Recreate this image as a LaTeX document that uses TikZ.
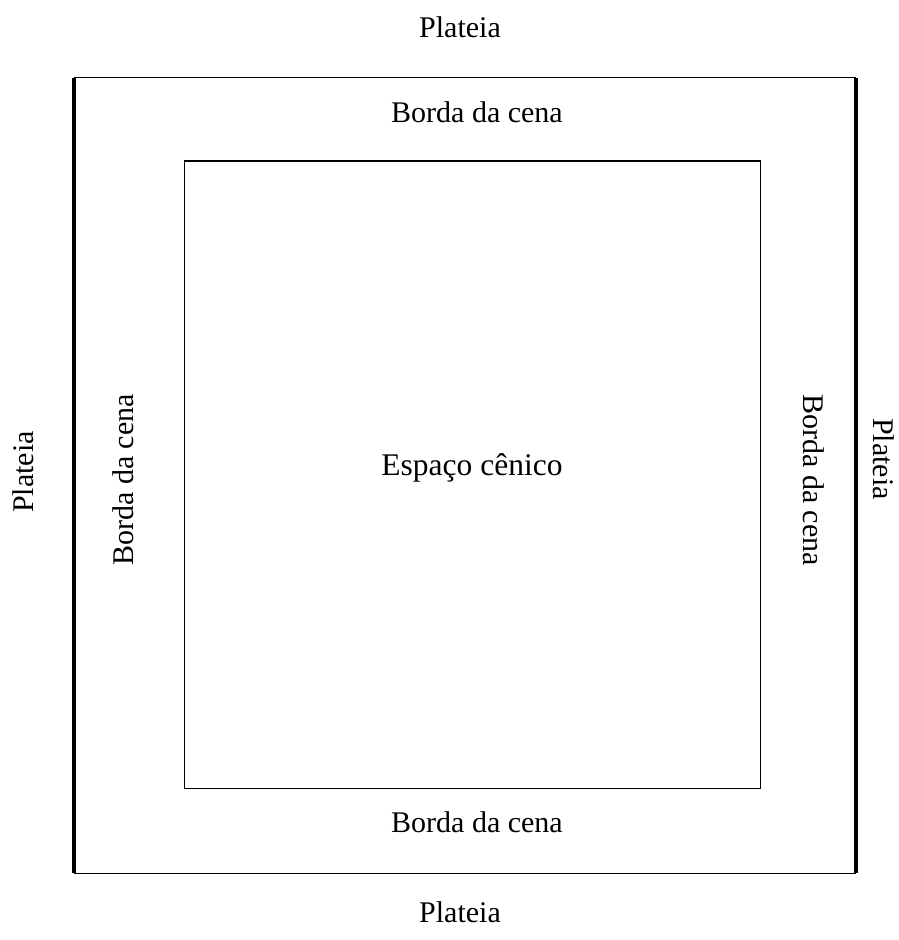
\documentclass[tikz,border=0pt]{standalone}
\usepackage{fontspec}
\setmainfont{Liberation Serif}
\begin{document}
\begin{tikzpicture}[x=1pt,y=-1pt,
  lbl/.style={font=\fontsize{30}{36}\selectfont, inner sep=0pt, anchor=base},
  thin/.style={line width=1.5pt},
  thick/.style={line width=4.5pt}]
\useasboundingbox (0,0) rectangle (899,940);
% outer frame
\coordinate (otl) at (74,77.5);
\coordinate (otr) at (856,77.5);
\coordinate (obl) at (74,873.5);
\coordinate (obr) at (856,873.5);
\draw[thin] (otl) -- (otr);
\draw[thin] (obl) -- (obr);
\draw[thick] ([yshift=-0.75]otl) -- ([yshift=0.75]obl);
\draw[thick] ([yshift=-0.75]otr) -- ([yshift=0.75]obr);
% inner frame
\draw[thin] (184.5,161) rectangle (760.5,788.5);
% labels
\node[lbl] (ptop) at (460,37) {Plateia};
\node[lbl] (btop) at (477,122) {Borda da cena};
\node[lbl, font=\fontsize{31.5}{38}\selectfont] (esp) at (472,475) {Espaço cênico};
\node[lbl] (bbot) at (477,832) {Borda da cena};
\node[lbl] (pbot) at (460,922) {Plateia};
\node[lbl, rotate=90] (pleft) at (33,472) {Plateia};
\node[lbl, rotate=90] (bleft) at (133,480) {Borda da cena};
\node[lbl, rotate=-90] (bright) at (803,480) {Borda da cena};
\node[lbl, rotate=-90] (pright) at (873,459) {Plateia};
\end{tikzpicture}
\end{document}
